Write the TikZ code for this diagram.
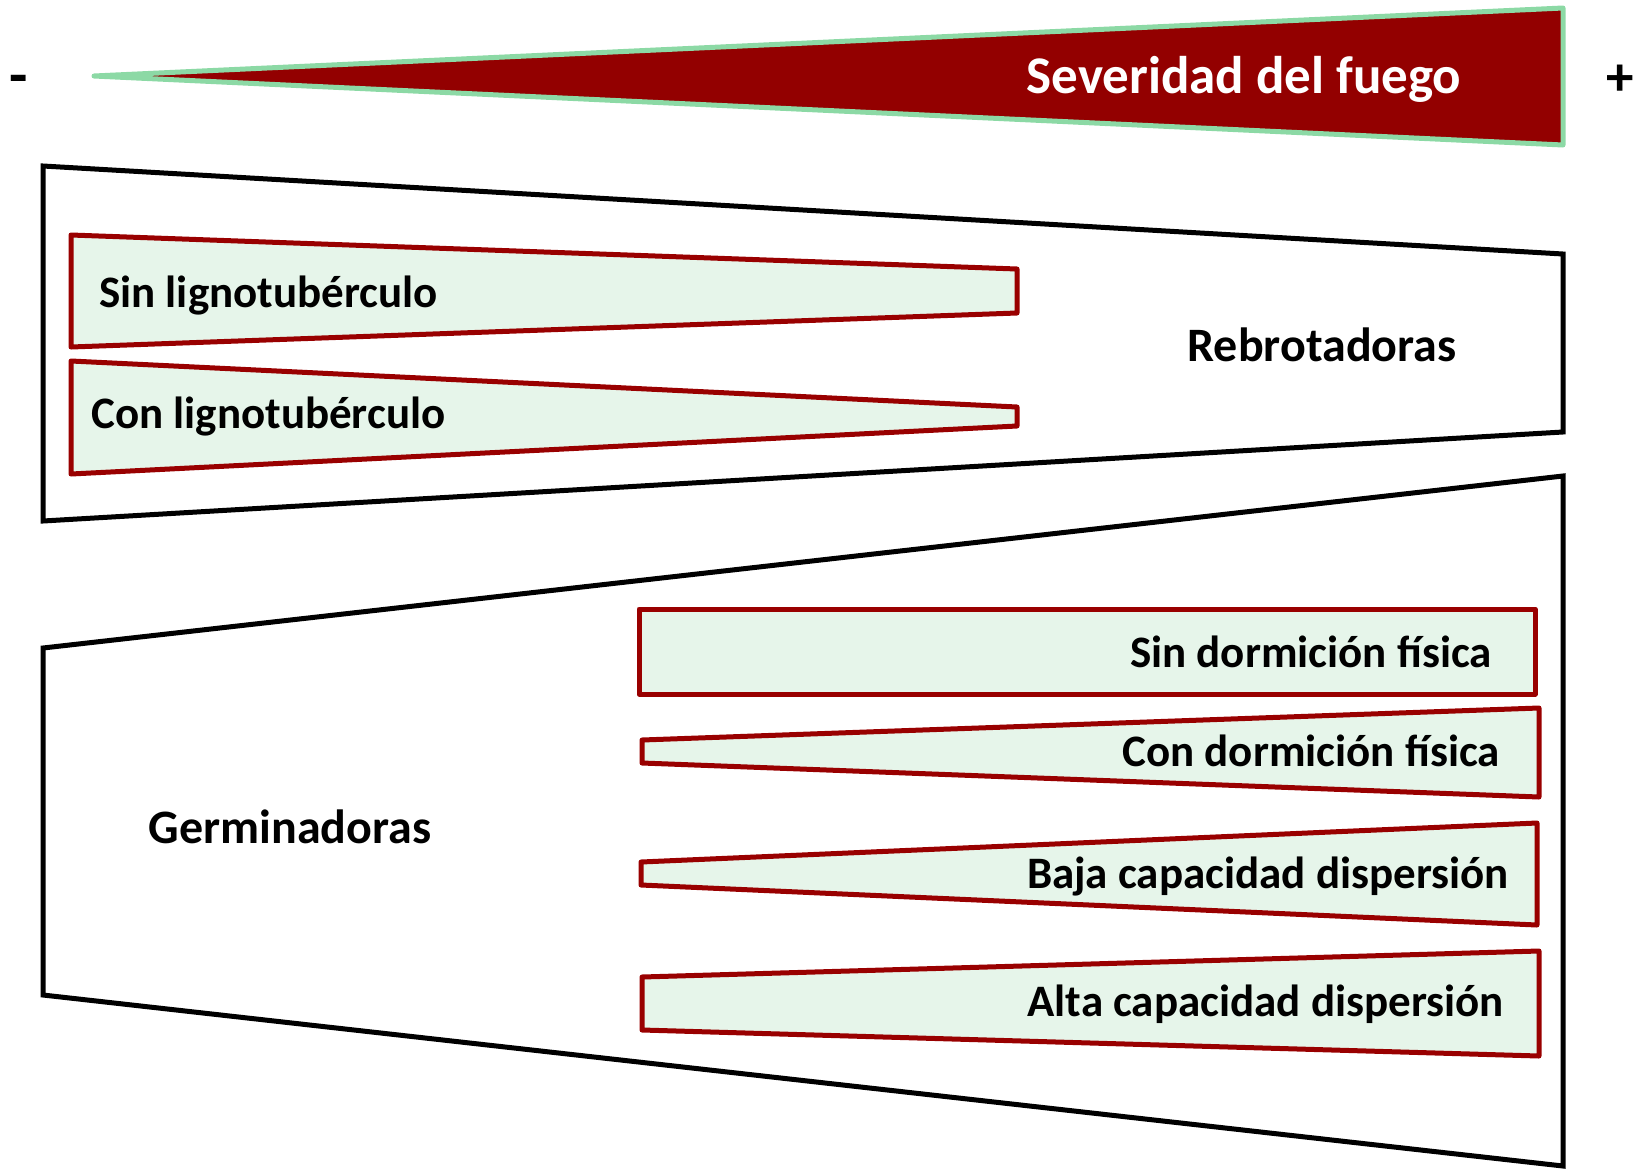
\documentclass[tikz,border=0pt]{standalone}
\usepackage{fontspec}
\setmainfont{Carlito}
\usepackage{tikz}
\usetikzlibrary{positioning}
\definecolor{fuego}{HTML}{930000}
\definecolor{verdeborde}{HTML}{8CD9A5}
\definecolor{rojoborde}{HTML}{990000}
\definecolor{verdefondo}{HTML}{E6F5EA}
\tikzset{
  etiqueta/.style = {font=\fontsize{45}{54}\selectfont\bfseries, inner sep=0pt},
  grande/.style = {etiqueta, font=\fontsize{48}{58}\selectfont\bfseries},
  grupo/.style = {draw=black, line width=5pt, line join=miter},
  rasgo/.style = {draw=rojoborde, fill=verdefondo, line width=5pt, line join=round},
  severidad/.style = {draw=verdeborde, fill=fuego, line width=5pt, line join=round},
}

\begin{document}
\begin{tikzpicture}[x=1pt, y=-1pt]
  \useasboundingbox (0,0) rectangle (1639,1168);
  % severidad del fuego
  \draw[severidad] (94,76) -- (1563,8) -- (1563,145) -- cycle;
  \node[etiqueta, text=white, font=\fontsize{53}{64}\selectfont\bfseries] (sev) at (1244,79) {Severidad del fuego};
  \node[etiqueta, font=\fontsize{60}{70}\selectfont\bfseries] (menos) at (19,85) {-};
  \node[etiqueta, font=\fontsize{55}{66}\selectfont\bfseries] (mas) at (1620,80) {+};
  % rebrotadoras
  \draw[grupo] (43,166) -- (1563,254) -- (1563,432) -- (43,521) -- cycle;
  \node[grande] (rebrot) at (1322,345) {Rebrotadoras};
  \draw[rasgo] (71,235) -- (1017,269) -- (1017,313) -- (71,347) -- cycle;
  \node[etiqueta, anchor=west] (sinlig) at (99,296) {Sin lignotubérculo};
  \draw[rasgo] (71,361) -- (1017,407) -- (1017,426) -- (71,474) -- cycle;
  \node[etiqueta, anchor=west] (conlig) at (91,417) {Con lignotubérculo};
  % germinadoras
  \draw[grupo] (43,648) -- (1563,476) -- (1563,1166) -- (43,995) -- cycle;
  \node[grande] (germ) at (290,827) {Germinadoras};
  \draw[rasgo] (639,609) rectangle (1535,694);
  \node[etiqueta, anchor=east] (sindorm) at (1492,652) {Sin dormición física};
  \draw[rasgo] (642,740) -- (1539,708) -- (1539,797) -- (642,763) -- cycle;
  \node[etiqueta, anchor=east] (condorm) at (1500,751) {Con dormición física};
  \draw[rasgo] (641,862) -- (1537,823) -- (1537,925) -- (641,885) -- cycle;
  \node[etiqueta, anchor=east] (baja) at (1509,877) {Baja capacidad dispersión};
  \draw[rasgo] (642,977) -- (1539,951) -- (1539,1056) -- (642,1030) -- cycle;
  \node[etiqueta, anchor=east] (alta) at (1504,1004) {Alta capacidad dispersión};
\end{tikzpicture}
\end{document}
